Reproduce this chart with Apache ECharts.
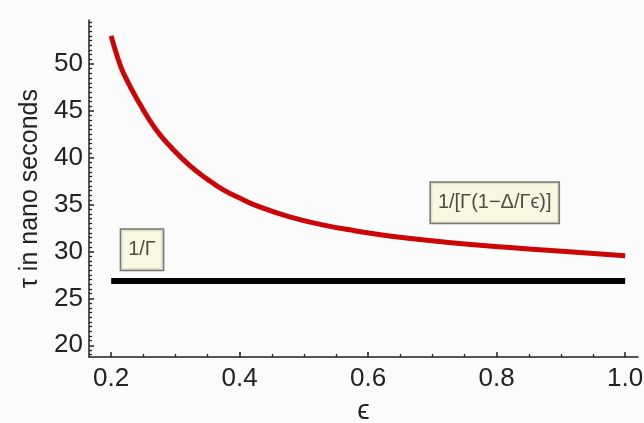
<!DOCTYPE html>
<html>
<head>
<meta charset="utf-8">
<script src="https://cdn.jsdelivr.net/npm/echarts@6/dist/echarts.min.js"></script>
<style>
  html, body { margin: 0; padding: 0; background: #fbfbfb; }
  #chart { width: 644px; height: 423px; }
</style>
</head>
<body>
<div id="chart"></div>
<script>
// values
var epsilon = [0.2, 0.21, 0.22, 0.245, 0.27, 0.295, 0.322, 0.35, 0.374, 0.4, 0.426, 0.478, 0.529, 0.581, 0.633, 0.721, 0.825, 0.929, 1.0];
var tauCurve = [53.0, 50.7, 48.9, 45.7, 43.0, 41.0, 39.2, 37.7, 36.6, 35.7, 34.9, 33.7, 32.85, 32.2, 31.65, 31.0, 30.4, 29.9, 29.55];
var epsFlat = [0.2, 1.0];
var tauFlat = [26.85, 26.85];

var xMajorTicks = [0.2, 0.4, 0.6, 0.8, 1.0];
var xMinorTicks = [0.25, 0.3, 0.35, 0.45, 0.5, 0.55, 0.65, 0.7, 0.75, 0.85, 0.9, 0.95];
var yMajorTicks = [20, 25, 30, 35, 40, 45, 50];
var yMinorTicks = [19, 19.5, 20.5, 21, 21.5, 22, 22.5, 23, 23.5, 24, 24.5, 25.5, 26, 26.5, 27, 27.5, 28, 28.5, 29, 29.5,
  30.5, 31, 31.5, 32, 32.5, 33, 33.5, 34, 34.5, 35.5, 36, 36.5, 37, 37.5, 38, 38.5, 39, 39.5,
  40.5, 41, 41.5, 42, 42.5, 43, 43.5, 44, 44.5, 45.5, 46, 46.5, 47, 47.5, 48, 48.5, 49, 49.5,
  50.5, 51, 51.5, 52, 52.5, 53, 53.5, 54, 54.5];

var labelNames = ['1/Γ', '1/[Γ(1\u2212Δ/Γϵ)]'];
var labelEps = [0.248, 0.797];
var labelTau = [30.2, 35.2];

var font = '"Liberation Sans", Arial, Helvetica, sans-serif';
var xMin = 0.1655, xMax = 1.02, yMin = 18.75, yMax = 54.7;

var chart = echarts.init(document.getElementById('chart'));

var zip = function (a, b) { return a.map(function (v, i) { return [v, b[i]]; }); };

chart.setOption({
  backgroundColor: '#fbfbfb',
  animation: false,
  grid: { left: 89, right: 6, top: 20, bottom: 66, outerBoundsMode: 'none' },
  xAxis: [
    {
      type: 'value', min: xMin, max: xMax,
      name: 'ϵ', nameLocation: 'middle', nameGap: 40,
      nameTextStyle: { fontFamily: font, fontSize: 28, color: '#222' },
      axisLine: { lineStyle: { color: '#222', width: 1.5 } },
      axisTick: { inside: true, length: 5, customValues: xMajorTicks, lineStyle: { color: '#222', width: 1.5 } },
      axisLabel: {
        customValues: xMajorTicks, margin: 9,
        fontFamily: font, fontSize: 26, color: '#222',
        formatter: function (v) { return v.toFixed(1); }
      },
      splitLine: { show: false }
    },
    {
      type: 'value', min: xMin, max: xMax, position: 'bottom',
      axisLine: { show: false },
      axisTick: { show: true, inside: true, length: 3, customValues: xMinorTicks, lineStyle: { color: '#222', width: 1.3 } },
      axisLabel: { show: false },
      splitLine: { show: false }
    }
  ],
  yAxis: [
    {
      type: 'value', min: yMin, max: yMax,
      name: 'τ in nano seconds', nameLocation: 'middle', nameGap: 46,
      nameTextStyle: { fontFamily: font, fontSize: 25, color: '#222' },
      axisLine: { show: true, lineStyle: { color: '#222', width: 1.5 } },
      axisTick: { show: true, inside: true, length: 5, customValues: yMajorTicks, lineStyle: { color: '#222', width: 1.5 } },
      axisLabel: { customValues: yMajorTicks, margin: 6, fontFamily: font, fontSize: 26, color: '#222' },
      splitLine: { show: false }
    },
    {
      type: 'value', min: yMin, max: yMax, position: 'left',
      axisLine: { show: false },
      axisTick: { show: true, inside: true, length: 3, customValues: yMinorTicks, lineStyle: { color: '#222', width: 1.3 } },
      axisLabel: { show: false },
      splitLine: { show: false }
    }
  ],
  series: [
    {
      type: 'line', data: zip(epsFlat, tauFlat), showSymbol: false,
      lineStyle: { color: '#050505', width: 6, cap: 'butt' }
    },
    {
      type: 'line', data: zip(epsilon, tauCurve), showSymbol: false,
      smooth: true,
      lineStyle: { color: '#cc0606', width: 5, cap: 'butt' }
    },
    {
      // the text boxes, placed in data coordinates on the (identical) minor axes
      type: 'scatter', symbolSize: 0, xAxisIndex: 1, yAxisIndex: 1,
      data: labelNames.map(function (n, i) { return { name: n, value: [labelEps[i], labelTau[i]] }; }),
      label: {
        show: true, position: 'inside',
        formatter: function (p) { return p.name; },
        fontFamily: font, fontSize: 20, color: '#222',
        backgroundColor: '#f8f6da', borderColor: '#555', borderWidth: 1.5,
        padding: [11, 7, 9, 7]
      }
    }
  ]
});
</script>
</body>
</html>
